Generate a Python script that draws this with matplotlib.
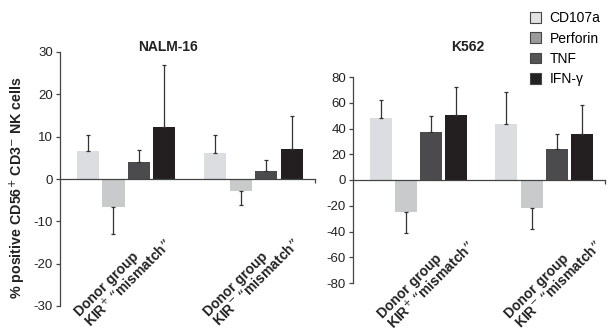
import matplotlib.pyplot as plt
from matplotlib.patches import Patch
import numpy as np

plt.rcParams['font.family'] = ['Liberation Sans', 'DejaVu Sans']
plt.rcParams['axes.unicode_minus'] = False

markers = ['CD107a', 'Perforin', 'TNF', 'IFN-γ']
groups = ['Donor group\nKIR$^{+}$ “mismatch”', 'Donor group\nKIR$^{-}$ “mismatch”']

# NALM-16: mean and top of error bar, per group
nalm_mean = [[6.7, -6.5, 4.1, 12.4], [6.2, -2.9, 2.0, 7.2]]
nalm_err = [[10.3, -13.1, 6.9, 27.0], [10.4, -6.1, 4.6, 15.0]]

# K562
k562_mean = [[48.0, -24.6, 37.0, 50.5], [43.5, -21.4, 23.8, 35.5]]
k562_err = [[62.5, -41.0, 50.0, 72.0], [68.0, -38.0, 35.5, 58.5]]

bar_colors = ['#dcdde0', '#c9cacc', '#4b4b4d', '#231f20']
legend_colors = ['#e2e2e2', '#9a9a9a', '#545454', '#222222']

fig = plt.figure(figsize=(6.10, 3.33), dpi=100)
ax1 = fig.add_axes([60/610, 1-306/333, 255/610, 254/333])
ax2 = fig.add_axes([353/610, 1-283/333, 252/610, 206/333])


def draw(ax, means, errs, ylim, step, lab_y, lab_dx):
    gap = 5
    width = 0.87
    for g in range(len(groups)):
        for i in range(len(markers)):
            x = g * gap + i - 1.5
            m = means[g][i]
            e = errs[g][i]
            ax.bar(x, m, width, color=bar_colors[i], edgecolor='none', zorder=2)
            if m >= 0:
                yerr = [[0], [e - m]]
            else:
                yerr = [[m - e], [0]]
            ax.errorbar(x, m, yerr=yerr, fmt='none', ecolor='#333333',
                        elinewidth=0.9, capsize=1.5, capthick=0.9, zorder=3)
        ax.text(g * gap + lab_dx, lab_y, groups[g], transform=ax.get_xaxis_transform(),
                rotation=45, ha='right', va='top', fontsize=10, fontweight='bold',
                color='#222222', multialignment='left', linespacing=0.9)
    ax.set_xlim(-2.6, 7.42)
    ax.set_ylim(*ylim)
    ax.set_yticks(np.arange(ylim[0], ylim[1] + 1, step))
    for s in ['top', 'right']:
        ax.spines[s].set_visible(False)
    ax.spines['bottom'].set_position(('data', 0))
    ax.spines['left'].set_color('#444444')
    ax.spines['bottom'].set_color('#444444')
    ax.spines['left'].set_linewidth(0.9)
    ax.spines['bottom'].set_linewidth(0.9)
    ax.set_xticks([])
    ax.set_xticks([7.42], minor=True)
    ax.tick_params(axis='x', which='minor', length=3, width=0.9, color='#444444')
    ax.tick_params(axis='y', length=3, width=0.9, color='#444444', labelsize=9.5,
                   labelcolor='#222222', pad=2)
    ax.patch.set_visible(False)


draw(ax1, nalm_mean, nalm_err, (-30, 30), 10, 0.31, 1.95)
draw(ax2, k562_mean, k562_err, (-80, 80), 20, 0.265, 2.4)

fig.text(168/610, 1-47/333, 'NALM-16', ha='center', va='center',
         fontsize=10, fontweight='bold', color='#222222')
fig.text(468/610, 1-47/333, 'K562', ha='center', va='center',
         fontsize=10, fontweight='bold', color='#222222')
fig.text(18/610, 1-188/333, '% positive CD56$^{+}$ CD3$^{-}$ NK cells', rotation=90,
         ha='center', va='center', fontsize=10.3, fontweight='bold', color='#222222')

handles = [Patch(facecolor=c, edgecolor='#444444', linewidth=0.8) for c in legend_colors]
fig.legend(handles, markers, loc='upper right', bbox_to_anchor=(1.0, 0.995),
           frameon=False, fontsize=10, handlelength=0.8, handleheight=0.8,
           handletextpad=0.6, labelspacing=0.45, borderaxespad=0.3)

fig.savefig('out.png', dpi=100)
